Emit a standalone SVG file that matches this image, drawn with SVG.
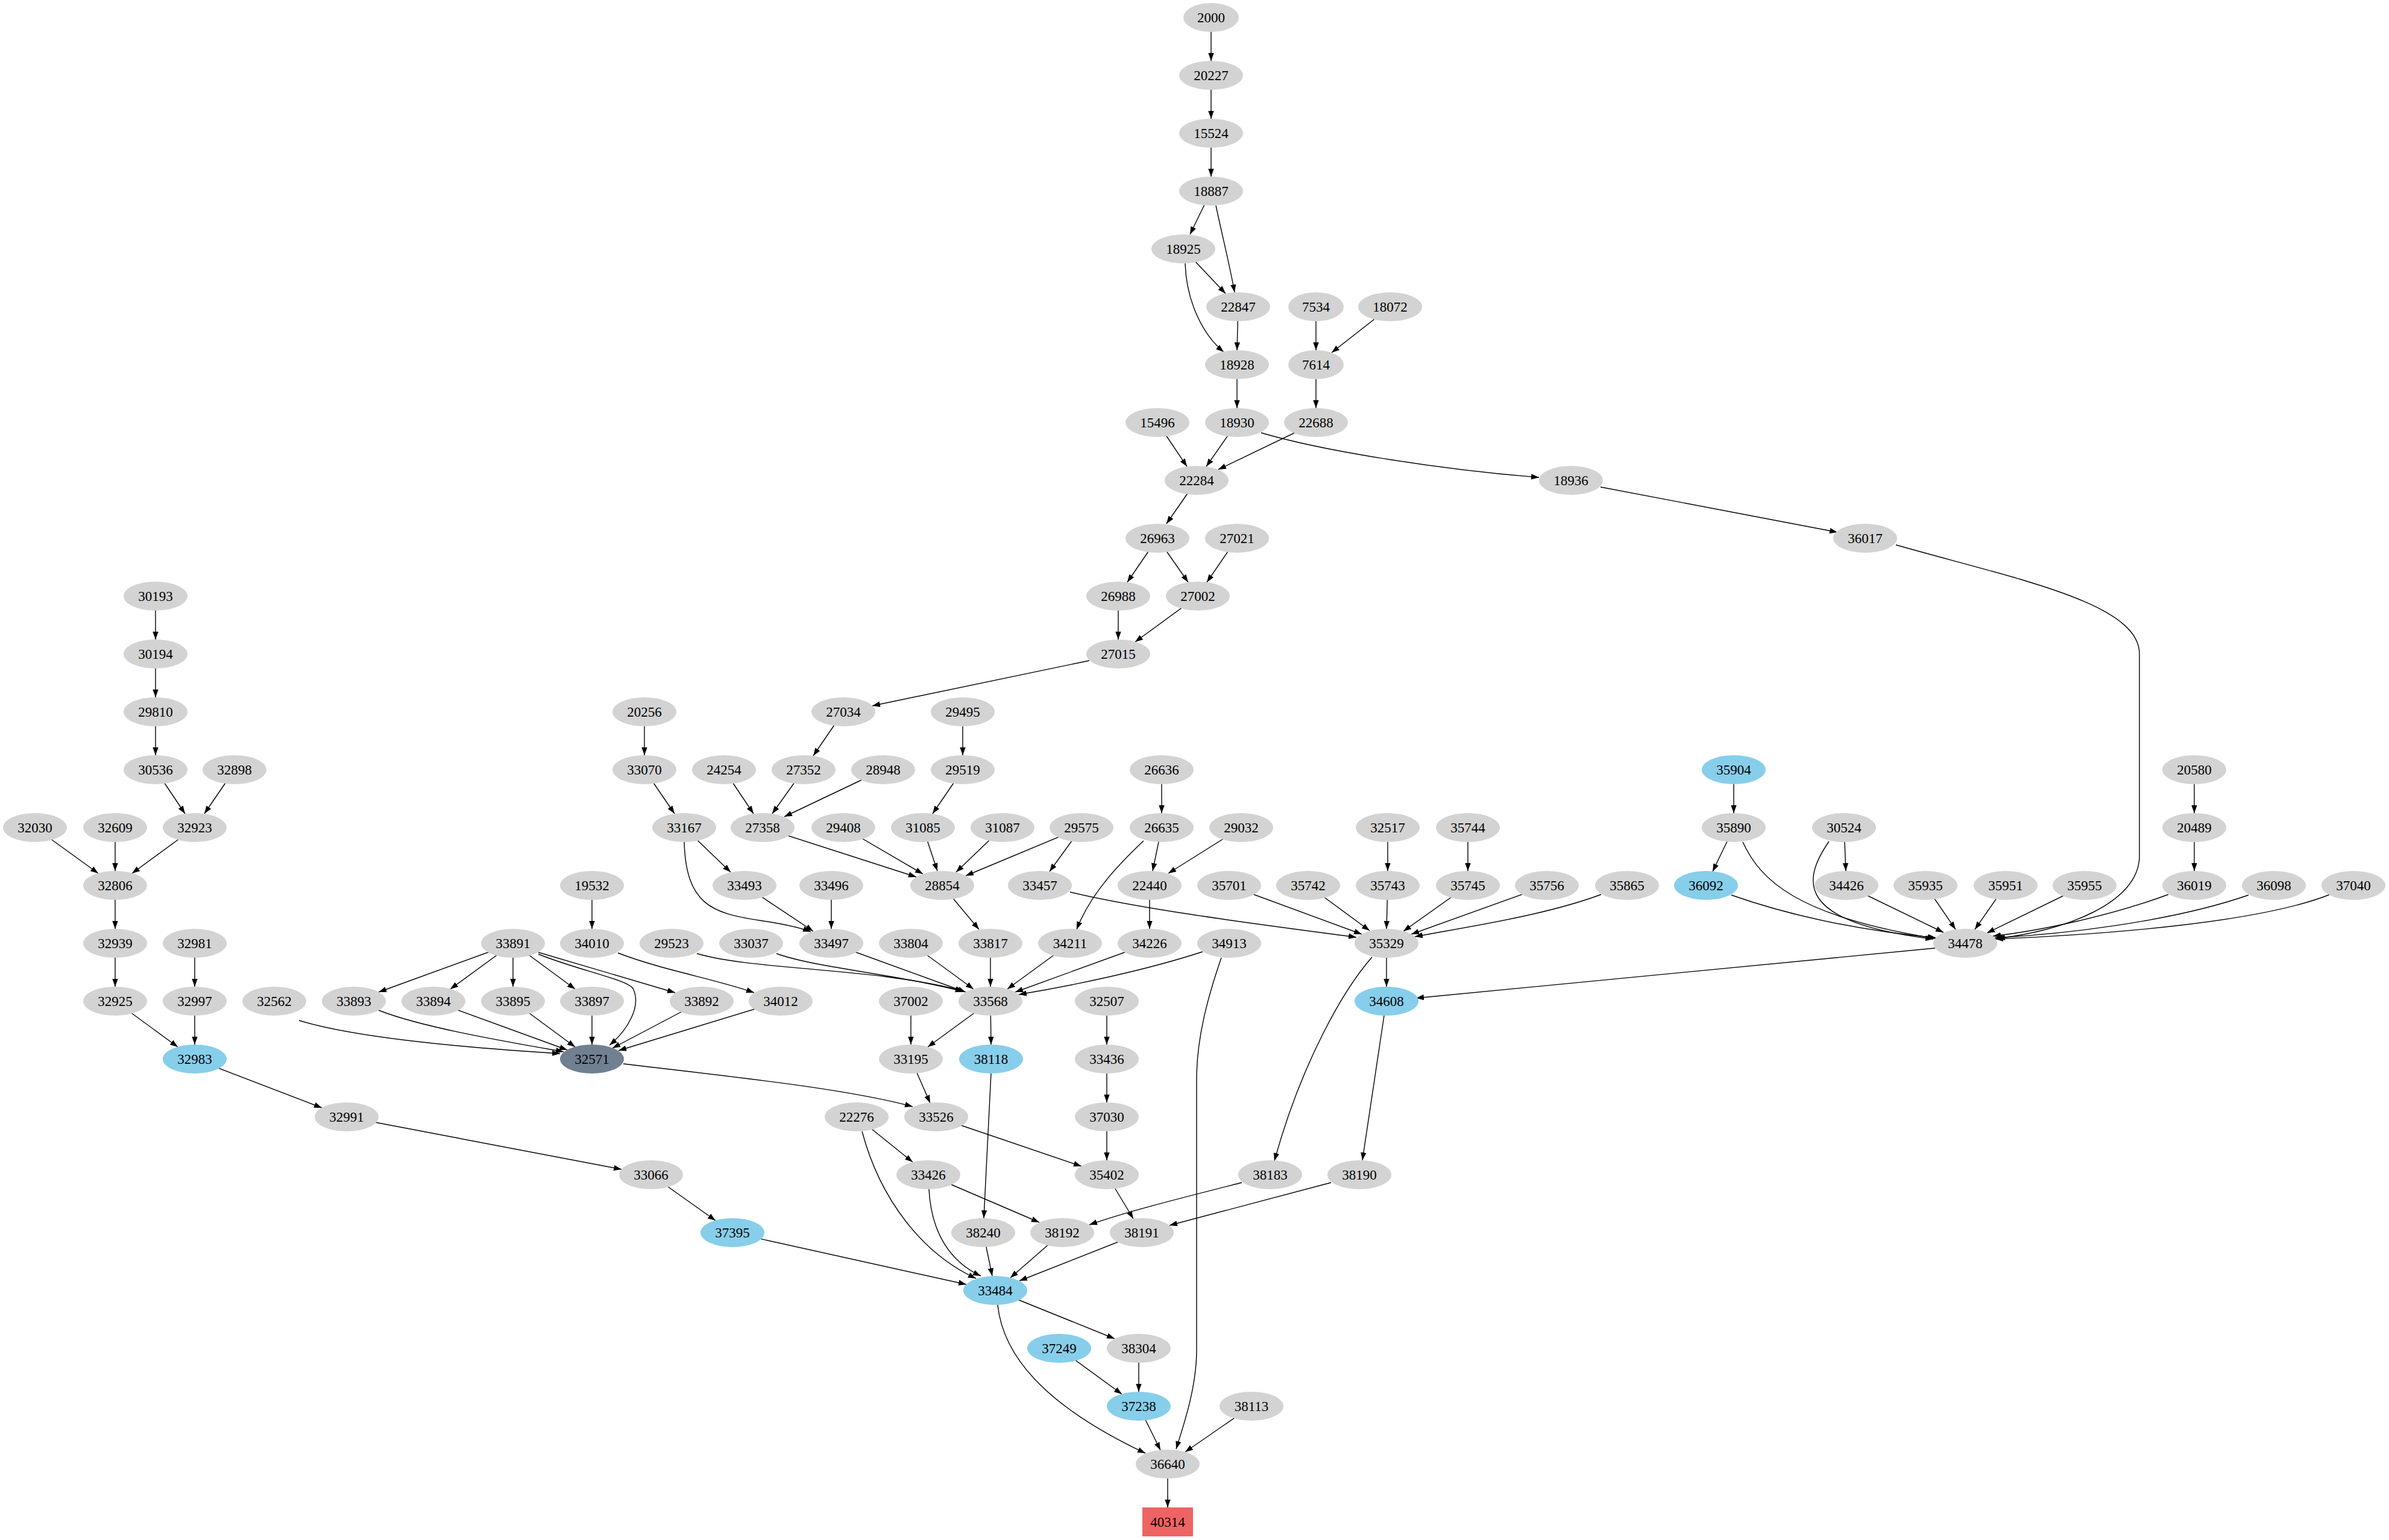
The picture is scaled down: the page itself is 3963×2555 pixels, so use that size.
<svg xmlns="http://www.w3.org/2000/svg" width="3963" height="2555" viewBox="0 0 3963 2555">
<style>
.n ellipse{fill:#d3d3d3}
.n.b ellipse{fill:#87ceeb}
.n.s ellipse{fill:#708090}
.n rect{fill:#ee6363}
text{font-family:"Liberation Serif","Times New Roman",serif;font-size:23px;text-anchor:middle;fill:#000}
#edges path{fill:none;stroke:#000;stroke-width:1.4;marker-end:url(#a)}
</style>
<defs>
<marker id="a" markerUnits="userSpaceOnUse" markerWidth="14" markerHeight="10" refX="13" refY="5" orient="auto" viewBox="0 0 14 10"><path d="M0,0.3L13,5L0,9.7z" fill="#000"/></marker>
</defs>
<rect width="3963" height="2555" fill="#fff"/>
<g id="edges">
<path d="M2009,29L2009,101"/>
<path d="M2009,125L2009,197"/>
<path d="M2009,221L2009,293"/>
<path d="M2009,317L1974,389"/>
<path d="M2017,341C2025,380 2040,440 2048,485"/>
<path d="M1963,413L2033,487"/>
<path d="M1966,437C1968,500 1995,555 2030,584"/>
<path d="M2054,509L2052,581"/>
<path d="M2183,509L2183,581"/>
<path d="M2306,509L2209,585"/>
<path d="M2183,605L2183,677"/>
<path d="M2052,605L2052,677"/>
<path d="M1920,701L1969,774"/>
<path d="M2052,701L2001,774"/>
<path d="M2183,701L2021,779"/>
<path d="M2092,718C2200,750 2400,780 2553,792"/>
<path d="M2655,808L3048,883"/>
<path d="M3145,904C3345,961 3549,1000 3549,1085L3549,1420C3549,1500 3420,1545 3313,1557"/>
<path d="M1985,797L1935,869"/>
<path d="M1920,893L1870,966"/>
<path d="M1920,893L1971,966"/>
<path d="M2052,893L2002,966"/>
<path d="M1855,989L1855,1061"/>
<path d="M1987,989L1883,1065"/>
<path d="M1807,1096L1447,1171"/>
<path d="M1399,1181L1349,1254"/>
<path d="M1597,1181L1597,1253"/>
<path d="M1333,1277L1281,1350"/>
<path d="M1201,1277L1250,1350"/>
<path d="M1465,1277L1301,1355"/>
<path d="M1597,1277L1547,1350"/>
<path d="M1927,1277L1927,1349"/>
<path d="M1265,1373L1520,1455"/>
<path d="M1399,1373L1531,1450"/>
<path d="M1531,1373L1555,1445"/>
<path d="M1663,1373L1586,1447"/>
<path d="M1794,1373L1602,1453"/>
<path d="M1794,1373L1741,1446"/>
<path d="M1927,1373L1912,1445"/>
<path d="M2059,1373L1938,1449"/>
<path d="M1897,1395C1860,1430 1810,1480 1786,1542"/>
<path d="M2302,1373L2302,1445"/>
<path d="M2435,1373L2435,1445"/>
<path d="M1775,1480C1900,1510 2100,1535 2250,1555"/>
<path d="M1907,1469L1907,1541"/>
<path d="M2039,1469L2259,1550"/>
<path d="M2170,1469L2272,1544"/>
<path d="M2302,1469L2300,1541"/>
<path d="M2435,1469L2328,1545"/>
<path d="M2566,1469L2341,1550"/>
<path d="M2656,1484C2560,1520 2420,1540 2347,1554"/>
<path d="M1069,1181L1069,1253"/>
<path d="M1069,1277L1119,1350"/>
<path d="M1135,1373L1212,1447"/>
<path d="M1135,1397C1138,1500 1180,1515 1260,1527C1300,1533 1325,1538 1345,1546"/>
<path d="M1235,1469L1349,1545"/>
<path d="M1379,1469L1379,1541"/>
<path d="M258,989L258,1061"/>
<path d="M258,1085L258,1157"/>
<path d="M258,1181L258,1253"/>
<path d="M258,1277L307,1350"/>
<path d="M389,1277L339,1350"/>
<path d="M58,1373L163,1449"/>
<path d="M191,1373L191,1445"/>
<path d="M323,1373L219,1449"/>
<path d="M191,1469L191,1541"/>
<path d="M191,1565L191,1637"/>
<path d="M323,1565L323,1637"/>
<path d="M191,1661L295,1737"/>
<path d="M323,1661L323,1733"/>
<path d="M982,1469L982,1541"/>
<path d="M1025,1581C1100,1610 1190,1625 1251,1647"/>
<path d="M851,1565L628,1646"/>
<path d="M851,1565L747,1641"/>
<path d="M851,1565L851,1637"/>
<path d="M851,1565L954,1641"/>
<path d="M893,1580L1120,1647"/>
<path d="M893,1583C960,1610 1040,1625 1050,1640C1065,1670 1040,1710 1011,1734"/>
<path d="M496,1693C600,1725 800,1740 929,1748"/>
<path d="M628,1676C700,1705 850,1730 935,1745"/>
<path d="M719,1661L941,1742"/>
<path d="M851,1661L954,1737"/>
<path d="M982,1661L982,1733"/>
<path d="M1164,1661L1016,1739"/>
<path d="M1295,1661L1026,1743"/>
<path d="M1156,1582C1250,1610 1450,1605 1598,1644"/>
<path d="M1288,1582C1350,1605 1480,1615 1598,1645"/>
<path d="M1379,1565L1602,1646"/>
<path d="M1511,1565L1615,1641"/>
<path d="M1563,1469L1624,1542"/>
<path d="M1643,1565L1643,1637"/>
<path d="M1775,1565L1671,1641"/>
<path d="M1907,1565L1684,1646"/>
<path d="M1995,1579C1900,1610 1780,1635 1690,1650"/>
<path d="M2026,1589C2005,1650 1985,1720 1985,1790L1985,2240C1985,2300 1965,2360 1951,2404"/>
<path d="M1643,1661L1539,1737"/>
<path d="M1643,1661L1644,1733"/>
<path d="M1511,1661L1511,1733"/>
<path d="M1836,1661L1836,1733"/>
<path d="M1836,1757L1836,1829"/>
<path d="M1836,1853L1836,1925"/>
<path d="M1511,1757L1543,1830"/>
<path d="M1034,1765C1200,1785 1400,1805 1514,1836"/>
<path d="M1553,1853L1794,1935"/>
<path d="M1421,1853L1514,1928"/>
<path d="M1430,1877C1460,1990 1530,2080 1619,2121"/>
<path d="M1541,1973C1545,2050 1580,2095 1627,2117"/>
<path d="M1540,1949L1724,2028"/>
<path d="M1644,1781L1632,2021"/>
<path d="M2300,1565L2300,1637"/>
<path d="M2276,1588C2230,1640 2160,1760 2114,1926"/>
<path d="M2296,1685L2260,1925"/>
<path d="M2060,1962C1950,1990 1870,2010 1807,2032"/>
<path d="M2208,1962L1940,2033"/>
<path d="M1836,1949L1880,2022"/>
<path d="M1631,2045L1646,2117"/>
<path d="M1762,2045L1676,2120"/>
<path d="M1894,2045L1691,2125"/>
<path d="M1215,2045L1603,2131"/>
<path d="M323,1757L534,1838"/>
<path d="M575,1853L1031,1940"/>
<path d="M1080,1949L1187,2025"/>
<path d="M1651,2141L1849,2221"/>
<path d="M1655,2165C1665,2260 1750,2340 1900,2411"/>
<path d="M1757,2237L1861,2313"/>
<path d="M1889,2237L1889,2309"/>
<path d="M1889,2333L1925,2406"/>
<path d="M2076,2333L1966,2409"/>
<path d="M1937,2429L1937,2501"/>
<path d="M2876,1277L2876,1349"/>
<path d="M2876,1373L2841,1446"/>
<path d="M2891,1397C2920,1460 2980,1520 3210,1557"/>
<path d="M2872,1485C3000,1530 3130,1548 3212,1556"/>
<path d="M3034,1396C2990,1460 2975,1530 3207,1558"/>
<path d="M3059,1373L3062,1445"/>
<path d="M3063,1469L3224,1547"/>
<path d="M3194,1469L3244,1542"/>
<path d="M3327,1469L3276,1542"/>
<path d="M3458,1469L3296,1548"/>
<path d="M3597,1484C3500,1520 3380,1545 3306,1553"/>
<path d="M3730,1485C3600,1530 3420,1550 3309,1556"/>
<path d="M3865,1484C3750,1530 3500,1550 3310,1558"/>
<path d="M3640,1277L3640,1349"/>
<path d="M3640,1373L3640,1445"/>
<path d="M3210,1573L2349,1656"/>
</g>
<g id="n2000" class="n"><ellipse cx="2009" cy="29" rx="46" ry="24"/><text x="2009" y="37">2000</text></g>
<g id="n20227" class="n"><ellipse cx="2009" cy="125" rx="53" ry="24"/><text x="2009" y="133">20227</text></g>
<g id="n15524" class="n"><ellipse cx="2009" cy="221" rx="53" ry="24"/><text x="2009" y="229">15524</text></g>
<g id="n18887" class="n"><ellipse cx="2009" cy="317" rx="53" ry="24"/><text x="2009" y="325">18887</text></g>
<g id="n18925" class="n"><ellipse cx="1963" cy="413" rx="53" ry="24"/><text x="1963" y="421">18925</text></g>
<g id="n22847" class="n"><ellipse cx="2054" cy="509" rx="53" ry="24"/><text x="2054" y="517">22847</text></g>
<g id="n7534" class="n"><ellipse cx="2183" cy="509" rx="46" ry="24"/><text x="2183" y="517">7534</text></g>
<g id="n18072" class="n"><ellipse cx="2306" cy="509" rx="53" ry="24"/><text x="2306" y="517">18072</text></g>
<g id="n18928" class="n"><ellipse cx="2052" cy="605" rx="53" ry="24"/><text x="2052" y="613">18928</text></g>
<g id="n7614" class="n"><ellipse cx="2183" cy="605" rx="46" ry="24"/><text x="2183" y="613">7614</text></g>
<g id="n15496" class="n"><ellipse cx="1920" cy="701" rx="53" ry="24"/><text x="1920" y="709">15496</text></g>
<g id="n18930" class="n"><ellipse cx="2052" cy="701" rx="53" ry="24"/><text x="2052" y="709">18930</text></g>
<g id="n22688" class="n"><ellipse cx="2183" cy="701" rx="53" ry="24"/><text x="2183" y="709">22688</text></g>
<g id="n22284" class="n"><ellipse cx="1985" cy="797" rx="53" ry="24"/><text x="1985" y="805">22284</text></g>
<g id="n18936" class="n"><ellipse cx="2606" cy="797" rx="53" ry="24"/><text x="2606" y="805">18936</text></g>
<g id="n26963" class="n"><ellipse cx="1920" cy="893" rx="53" ry="24"/><text x="1920" y="901">26963</text></g>
<g id="n27021" class="n"><ellipse cx="2052" cy="893" rx="53" ry="24"/><text x="2052" y="901">27021</text></g>
<g id="n36017" class="n"><ellipse cx="3094" cy="893" rx="53" ry="24"/><text x="3094" y="901">36017</text></g>
<g id="n26988" class="n"><ellipse cx="1855" cy="989" rx="53" ry="24"/><text x="1855" y="997">26988</text></g>
<g id="n27002" class="n"><ellipse cx="1987" cy="989" rx="53" ry="24"/><text x="1987" y="997">27002</text></g>
<g id="n30193" class="n"><ellipse cx="258" cy="989" rx="53" ry="24"/><text x="258" y="997">30193</text></g>
<g id="n27015" class="n"><ellipse cx="1855" cy="1085" rx="53" ry="24"/><text x="1855" y="1093">27015</text></g>
<g id="n30194" class="n"><ellipse cx="258" cy="1085" rx="53" ry="24"/><text x="258" y="1093">30194</text></g>
<g id="n27034" class="n"><ellipse cx="1399" cy="1181" rx="53" ry="24"/><text x="1399" y="1189">27034</text></g>
<g id="n29495" class="n"><ellipse cx="1597" cy="1181" rx="53" ry="24"/><text x="1597" y="1189">29495</text></g>
<g id="n29810" class="n"><ellipse cx="258" cy="1181" rx="53" ry="24"/><text x="258" y="1189">29810</text></g>
<g id="n20256" class="n"><ellipse cx="1069" cy="1181" rx="53" ry="24"/><text x="1069" y="1189">20256</text></g>
<g id="n27352" class="n"><ellipse cx="1333" cy="1277" rx="53" ry="24"/><text x="1333" y="1285">27352</text></g>
<g id="n28948" class="n"><ellipse cx="1465" cy="1277" rx="53" ry="24"/><text x="1465" y="1285">28948</text></g>
<g id="n29519" class="n"><ellipse cx="1597" cy="1277" rx="53" ry="24"/><text x="1597" y="1285">29519</text></g>
<g id="n26636" class="n"><ellipse cx="1927" cy="1277" rx="53" ry="24"/><text x="1927" y="1285">26636</text></g>
<g id="n30536" class="n"><ellipse cx="258" cy="1277" rx="53" ry="24"/><text x="258" y="1285">30536</text></g>
<g id="n32898" class="n"><ellipse cx="389" cy="1277" rx="53" ry="24"/><text x="389" y="1285">32898</text></g>
<g id="n33070" class="n"><ellipse cx="1069" cy="1277" rx="53" ry="24"/><text x="1069" y="1285">33070</text></g>
<g id="n24254" class="n"><ellipse cx="1201" cy="1277" rx="53" ry="24"/><text x="1201" y="1285">24254</text></g>
<g id="n35904" class="n b"><ellipse cx="2876" cy="1277" rx="53" ry="24"/><text x="2876" y="1285">35904</text></g>
<g id="n20580" class="n"><ellipse cx="3640" cy="1277" rx="53" ry="24"/><text x="3640" y="1285">20580</text></g>
<g id="n27358" class="n"><ellipse cx="1265" cy="1373" rx="53" ry="24"/><text x="1265" y="1381">27358</text></g>
<g id="n29408" class="n"><ellipse cx="1399" cy="1373" rx="53" ry="24"/><text x="1399" y="1381">29408</text></g>
<g id="n31085" class="n"><ellipse cx="1531" cy="1373" rx="53" ry="24"/><text x="1531" y="1381">31085</text></g>
<g id="n31087" class="n"><ellipse cx="1663" cy="1373" rx="53" ry="24"/><text x="1663" y="1381">31087</text></g>
<g id="n29575" class="n"><ellipse cx="1794" cy="1373" rx="53" ry="24"/><text x="1794" y="1381">29575</text></g>
<g id="n26635" class="n"><ellipse cx="1927" cy="1373" rx="53" ry="24"/><text x="1927" y="1381">26635</text></g>
<g id="n29032" class="n"><ellipse cx="2059" cy="1373" rx="53" ry="24"/><text x="2059" y="1381">29032</text></g>
<g id="n32517" class="n"><ellipse cx="2302" cy="1373" rx="53" ry="24"/><text x="2302" y="1381">32517</text></g>
<g id="n35744" class="n"><ellipse cx="2435" cy="1373" rx="53" ry="24"/><text x="2435" y="1381">35744</text></g>
<g id="n35890" class="n"><ellipse cx="2876" cy="1373" rx="53" ry="24"/><text x="2876" y="1381">35890</text></g>
<g id="n30524" class="n"><ellipse cx="3059" cy="1373" rx="53" ry="24"/><text x="3059" y="1381">30524</text></g>
<g id="n20489" class="n"><ellipse cx="3640" cy="1373" rx="53" ry="24"/><text x="3640" y="1381">20489</text></g>
<g id="n32030" class="n"><ellipse cx="58" cy="1373" rx="53" ry="24"/><text x="58" y="1381">32030</text></g>
<g id="n32609" class="n"><ellipse cx="191" cy="1373" rx="53" ry="24"/><text x="191" y="1381">32609</text></g>
<g id="n32923" class="n"><ellipse cx="323" cy="1373" rx="53" ry="24"/><text x="323" y="1381">32923</text></g>
<g id="n33167" class="n"><ellipse cx="1135" cy="1373" rx="53" ry="24"/><text x="1135" y="1381">33167</text></g>
<g id="n33493" class="n"><ellipse cx="1235" cy="1469" rx="53" ry="24"/><text x="1235" y="1477">33493</text></g>
<g id="n33496" class="n"><ellipse cx="1379" cy="1469" rx="53" ry="24"/><text x="1379" y="1477">33496</text></g>
<g id="n28854" class="n"><ellipse cx="1563" cy="1469" rx="53" ry="24"/><text x="1563" y="1477">28854</text></g>
<g id="n33457" class="n"><ellipse cx="1725" cy="1469" rx="53" ry="24"/><text x="1725" y="1477">33457</text></g>
<g id="n22440" class="n"><ellipse cx="1907" cy="1469" rx="53" ry="24"/><text x="1907" y="1477">22440</text></g>
<g id="n35701" class="n"><ellipse cx="2039" cy="1469" rx="53" ry="24"/><text x="2039" y="1477">35701</text></g>
<g id="n35742" class="n"><ellipse cx="2170" cy="1469" rx="53" ry="24"/><text x="2170" y="1477">35742</text></g>
<g id="n35743" class="n"><ellipse cx="2302" cy="1469" rx="53" ry="24"/><text x="2302" y="1477">35743</text></g>
<g id="n35745" class="n"><ellipse cx="2435" cy="1469" rx="53" ry="24"/><text x="2435" y="1477">35745</text></g>
<g id="n35756" class="n"><ellipse cx="2566" cy="1469" rx="53" ry="24"/><text x="2566" y="1477">35756</text></g>
<g id="n35865" class="n"><ellipse cx="2699" cy="1469" rx="53" ry="24"/><text x="2699" y="1477">35865</text></g>
<g id="n36092" class="n b"><ellipse cx="2830" cy="1469" rx="53" ry="24"/><text x="2830" y="1477">36092</text></g>
<g id="n34426" class="n"><ellipse cx="3063" cy="1469" rx="53" ry="24"/><text x="3063" y="1477">34426</text></g>
<g id="n35935" class="n"><ellipse cx="3194" cy="1469" rx="53" ry="24"/><text x="3194" y="1477">35935</text></g>
<g id="n35951" class="n"><ellipse cx="3327" cy="1469" rx="53" ry="24"/><text x="3327" y="1477">35951</text></g>
<g id="n35955" class="n"><ellipse cx="3458" cy="1469" rx="53" ry="24"/><text x="3458" y="1477">35955</text></g>
<g id="n36019" class="n"><ellipse cx="3640" cy="1469" rx="53" ry="24"/><text x="3640" y="1477">36019</text></g>
<g id="n36098" class="n"><ellipse cx="3772" cy="1469" rx="53" ry="24"/><text x="3772" y="1477">36098</text></g>
<g id="n37040" class="n"><ellipse cx="3904" cy="1469" rx="53" ry="24"/><text x="3904" y="1477">37040</text></g>
<g id="n32806" class="n"><ellipse cx="191" cy="1469" rx="53" ry="24"/><text x="191" y="1477">32806</text></g>
<g id="n19532" class="n"><ellipse cx="982" cy="1469" rx="53" ry="24"/><text x="982" y="1477">19532</text></g>
<g id="n32939" class="n"><ellipse cx="191" cy="1565" rx="53" ry="24"/><text x="191" y="1573">32939</text></g>
<g id="n32981" class="n"><ellipse cx="323" cy="1565" rx="53" ry="24"/><text x="323" y="1573">32981</text></g>
<g id="n33891" class="n"><ellipse cx="851" cy="1565" rx="53" ry="24"/><text x="851" y="1573">33891</text></g>
<g id="n34010" class="n"><ellipse cx="982" cy="1565" rx="53" ry="24"/><text x="982" y="1573">34010</text></g>
<g id="n29523" class="n"><ellipse cx="1114" cy="1565" rx="53" ry="24"/><text x="1114" y="1573">29523</text></g>
<g id="n33037" class="n"><ellipse cx="1246" cy="1565" rx="53" ry="24"/><text x="1246" y="1573">33037</text></g>
<g id="n33497" class="n"><ellipse cx="1379" cy="1565" rx="53" ry="24"/><text x="1379" y="1573">33497</text></g>
<g id="n33804" class="n"><ellipse cx="1511" cy="1565" rx="53" ry="24"/><text x="1511" y="1573">33804</text></g>
<g id="n33817" class="n"><ellipse cx="1643" cy="1565" rx="53" ry="24"/><text x="1643" y="1573">33817</text></g>
<g id="n34211" class="n"><ellipse cx="1775" cy="1565" rx="53" ry="24"/><text x="1775" y="1573">34211</text></g>
<g id="n34226" class="n"><ellipse cx="1907" cy="1565" rx="53" ry="24"/><text x="1907" y="1573">34226</text></g>
<g id="n34913" class="n"><ellipse cx="2039" cy="1565" rx="53" ry="24"/><text x="2039" y="1573">34913</text></g>
<g id="n35329" class="n"><ellipse cx="2300" cy="1565" rx="53" ry="24"/><text x="2300" y="1573">35329</text></g>
<g id="n34478" class="n"><ellipse cx="3260" cy="1565" rx="53" ry="24"/><text x="3260" y="1573">34478</text></g>
<g id="n32925" class="n"><ellipse cx="191" cy="1661" rx="53" ry="24"/><text x="191" y="1669">32925</text></g>
<g id="n32997" class="n"><ellipse cx="323" cy="1661" rx="53" ry="24"/><text x="323" y="1669">32997</text></g>
<g id="n32562" class="n"><ellipse cx="455" cy="1661" rx="53" ry="24"/><text x="455" y="1669">32562</text></g>
<g id="n33893" class="n"><ellipse cx="587" cy="1661" rx="53" ry="24"/><text x="587" y="1669">33893</text></g>
<g id="n33894" class="n"><ellipse cx="719" cy="1661" rx="53" ry="24"/><text x="719" y="1669">33894</text></g>
<g id="n33895" class="n"><ellipse cx="851" cy="1661" rx="53" ry="24"/><text x="851" y="1669">33895</text></g>
<g id="n33897" class="n"><ellipse cx="982" cy="1661" rx="53" ry="24"/><text x="982" y="1669">33897</text></g>
<g id="n33892" class="n"><ellipse cx="1164" cy="1661" rx="53" ry="24"/><text x="1164" y="1669">33892</text></g>
<g id="n34012" class="n"><ellipse cx="1295" cy="1661" rx="53" ry="24"/><text x="1295" y="1669">34012</text></g>
<g id="n37002" class="n"><ellipse cx="1511" cy="1661" rx="53" ry="24"/><text x="1511" y="1669">37002</text></g>
<g id="n33568" class="n"><ellipse cx="1643" cy="1661" rx="53" ry="24"/><text x="1643" y="1669">33568</text></g>
<g id="n32507" class="n"><ellipse cx="1836" cy="1661" rx="53" ry="24"/><text x="1836" y="1669">32507</text></g>
<g id="n34608" class="n b"><ellipse cx="2300" cy="1661" rx="53" ry="24"/><text x="2300" y="1669">34608</text></g>
<g id="n32983" class="n b"><ellipse cx="323" cy="1757" rx="53" ry="24"/><text x="323" y="1765">32983</text></g>
<g id="n32571" class="n s"><ellipse cx="982" cy="1757" rx="53" ry="24"/><text x="982" y="1765">32571</text></g>
<g id="n33195" class="n"><ellipse cx="1511" cy="1757" rx="53" ry="24"/><text x="1511" y="1765">33195</text></g>
<g id="n38118" class="n b"><ellipse cx="1644" cy="1757" rx="53" ry="24"/><text x="1644" y="1765">38118</text></g>
<g id="n33436" class="n"><ellipse cx="1836" cy="1757" rx="53" ry="24"/><text x="1836" y="1765">33436</text></g>
<g id="n32991" class="n"><ellipse cx="575" cy="1853" rx="53" ry="24"/><text x="575" y="1861">32991</text></g>
<g id="n22276" class="n"><ellipse cx="1421" cy="1853" rx="53" ry="24"/><text x="1421" y="1861">22276</text></g>
<g id="n33526" class="n"><ellipse cx="1553" cy="1853" rx="53" ry="24"/><text x="1553" y="1861">33526</text></g>
<g id="n37030" class="n"><ellipse cx="1836" cy="1853" rx="53" ry="24"/><text x="1836" y="1861">37030</text></g>
<g id="n33066" class="n"><ellipse cx="1080" cy="1949" rx="53" ry="24"/><text x="1080" y="1957">33066</text></g>
<g id="n33426" class="n"><ellipse cx="1540" cy="1949" rx="53" ry="24"/><text x="1540" y="1957">33426</text></g>
<g id="n35402" class="n"><ellipse cx="1836" cy="1949" rx="53" ry="24"/><text x="1836" y="1957">35402</text></g>
<g id="n38183" class="n"><ellipse cx="2107" cy="1949" rx="53" ry="24"/><text x="2107" y="1957">38183</text></g>
<g id="n38190" class="n"><ellipse cx="2255" cy="1949" rx="53" ry="24"/><text x="2255" y="1957">38190</text></g>
<g id="n37395" class="n b"><ellipse cx="1215" cy="2045" rx="53" ry="24"/><text x="1215" y="2053">37395</text></g>
<g id="n38240" class="n"><ellipse cx="1631" cy="2045" rx="53" ry="24"/><text x="1631" y="2053">38240</text></g>
<g id="n38192" class="n"><ellipse cx="1762" cy="2045" rx="53" ry="24"/><text x="1762" y="2053">38192</text></g>
<g id="n38191" class="n"><ellipse cx="1894" cy="2045" rx="53" ry="24"/><text x="1894" y="2053">38191</text></g>
<g id="n33484" class="n b"><ellipse cx="1651" cy="2141" rx="53" ry="24"/><text x="1651" y="2149">33484</text></g>
<g id="n37249" class="n b"><ellipse cx="1757" cy="2237" rx="53" ry="24"/><text x="1757" y="2245">37249</text></g>
<g id="n38304" class="n"><ellipse cx="1889" cy="2237" rx="53" ry="24"/><text x="1889" y="2245">38304</text></g>
<g id="n37238" class="n b"><ellipse cx="1889" cy="2333" rx="53" ry="24"/><text x="1889" y="2341">37238</text></g>
<g id="n38113" class="n"><ellipse cx="2076" cy="2333" rx="53" ry="24"/><text x="2076" y="2341">38113</text></g>
<g id="n36640" class="n"><ellipse cx="1937" cy="2429" rx="53" ry="24"/><text x="1937" y="2437">36640</text></g>
<g id="n40314" class="n"><rect x="1895" y="2501" width="84" height="48"/><text x="1937" y="2533">40314</text></g>
</svg>
